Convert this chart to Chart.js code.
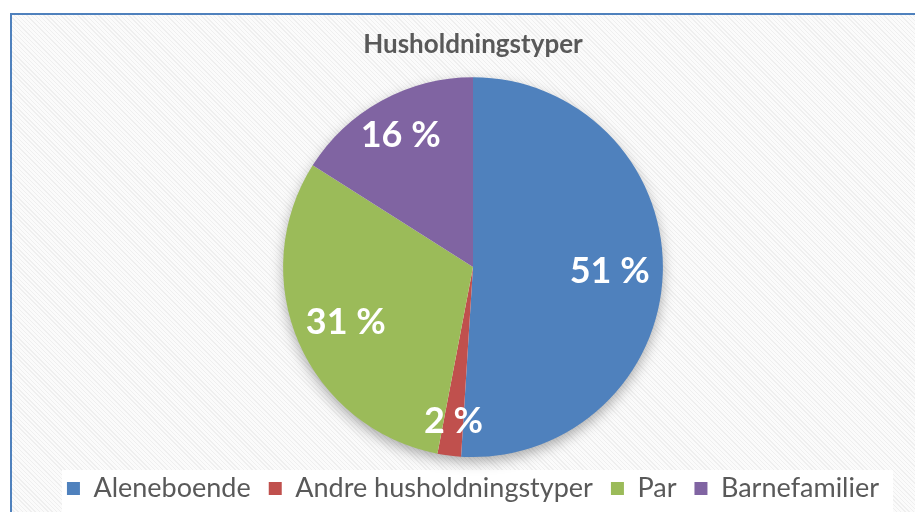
<!DOCTYPE html>
<html>
<head>
<meta charset="utf-8">
<script src="https://cdn.jsdelivr.net/npm/chart.js@4/dist/chart.umd.min.js"></script>
<style>
    html, body { margin: 0; padding: 0; background: #ffffff; overflow: hidden; }
    #ramme {
        position: absolute; left: 10px; top: 13px; width: 1000px; height: 600px;
        border: 2px solid #4f81bd;
        background: repeating-linear-gradient(45deg, #fbfbfb 0px, #fbfbfb 2px, #efefef 2px, #efefef 3px);
    }
    #husholdning { position: absolute; left: 0; top: 0; }
</style>
</head>
<body>
<div id="ramme"></div>
<canvas id="husholdning" width="915" height="512"></canvas>
<script>
const kategorier = ['Aleneboende', 'Andre husholdningstyper', 'Par', 'Barnefamilier'];
const andeler = [51, 2, 31, 16];
const etiketter = ['51 %', '2 %', '31 %', '16 %'];
const farger = ['#4f81bd', '#c0504d', '#9bbb59', '#8064a2'];

// skygge under kaka + hvit boks bak forklaringen
const skyggePlugin = {
    id: 'skygge',
    beforeDatasetsDraw(chart) {
        const arc = chart.getDatasetMeta(0).data[0];
        if (!arc) return;
        const { x, y, outerRadius } = arc.getProps(['x', 'y', 'outerRadius'], true);
        const ctx = chart.ctx;
        ctx.save();
        ctx.shadowColor = 'rgba(0,0,0,0.35)';
        ctx.shadowBlur = 14;
        ctx.shadowOffsetY = 5;
        ctx.fillStyle = '#ffffff';
        ctx.beginPath();
        ctx.arc(x, y, outerRadius - 1, 0, Math.PI * 2);
        ctx.fill();
        ctx.restore();
    },
    beforeDraw(chart) {
        const ctx = chart.ctx;
        ctx.save();
        ctx.fillStyle = '#ffffff';
        ctx.fillRect(62, 470, 831, 42);
        ctx.restore();
    }
};

// prosenttall inne i sektorene
const etikettPlugin = {
    id: 'etiketter',
    afterDatasetsDraw(chart, args, opts) {
        const ctx = chart.ctx;
        const meta = chart.getDatasetMeta(0);
        ctx.save();
        ctx.fillStyle = '#ffffff';
        ctx.font = 'bold 36px Lato';
        ctx.textAlign = 'center';
        ctx.textBaseline = 'middle';
        meta.data.forEach((arc, i) => {
            const p = arc.getProps(['x', 'y', 'startAngle', 'endAngle', 'outerRadius'], true);
            const mid = (p.startAngle + p.endAngle) / 2;
            const r = p.outerRadius * opts.radius[i];
            ctx.fillText(etiketter[i], p.x + Math.cos(mid) * r, p.y + Math.sin(mid) * r);
        });
        ctx.restore();
    }
};

const ctx = document.getElementById('husholdning').getContext('2d');
new Chart(ctx, {
    type: 'pie',
    data: {
        labels: kategorier,
        datasets: [{
            data: andeler,
            backgroundColor: farger,
            borderWidth: 0
        }]
    },
    options: {
        responsive: false,
        animation: false,
        layout: { padding: { left: 31, right: 0, top: 20, bottom: 0 } },
        plugins: {
            title: {
                display: true,
                text: 'Husholdningstyper',
                color: '#595959',
                font: { family: 'Lato', size: 26, weight: 'bold' },
                padding: { top: 9, bottom: 17 }
            },
            legend: {
                position: 'bottom',
                labels: {
                    color: '#595959',
                    font: { family: 'Lato', size: 27 },
                    boxWidth: 13,
                    boxHeight: 13,
                    padding: 18
                }
            },
            tooltip: { enabled: false },
            etiketter: { radius: [0.72, 0.82, 0.73, 0.79] }
        }
    },
    plugins: [skyggePlugin, etikettPlugin]
});
</script>
</body>
</html>
